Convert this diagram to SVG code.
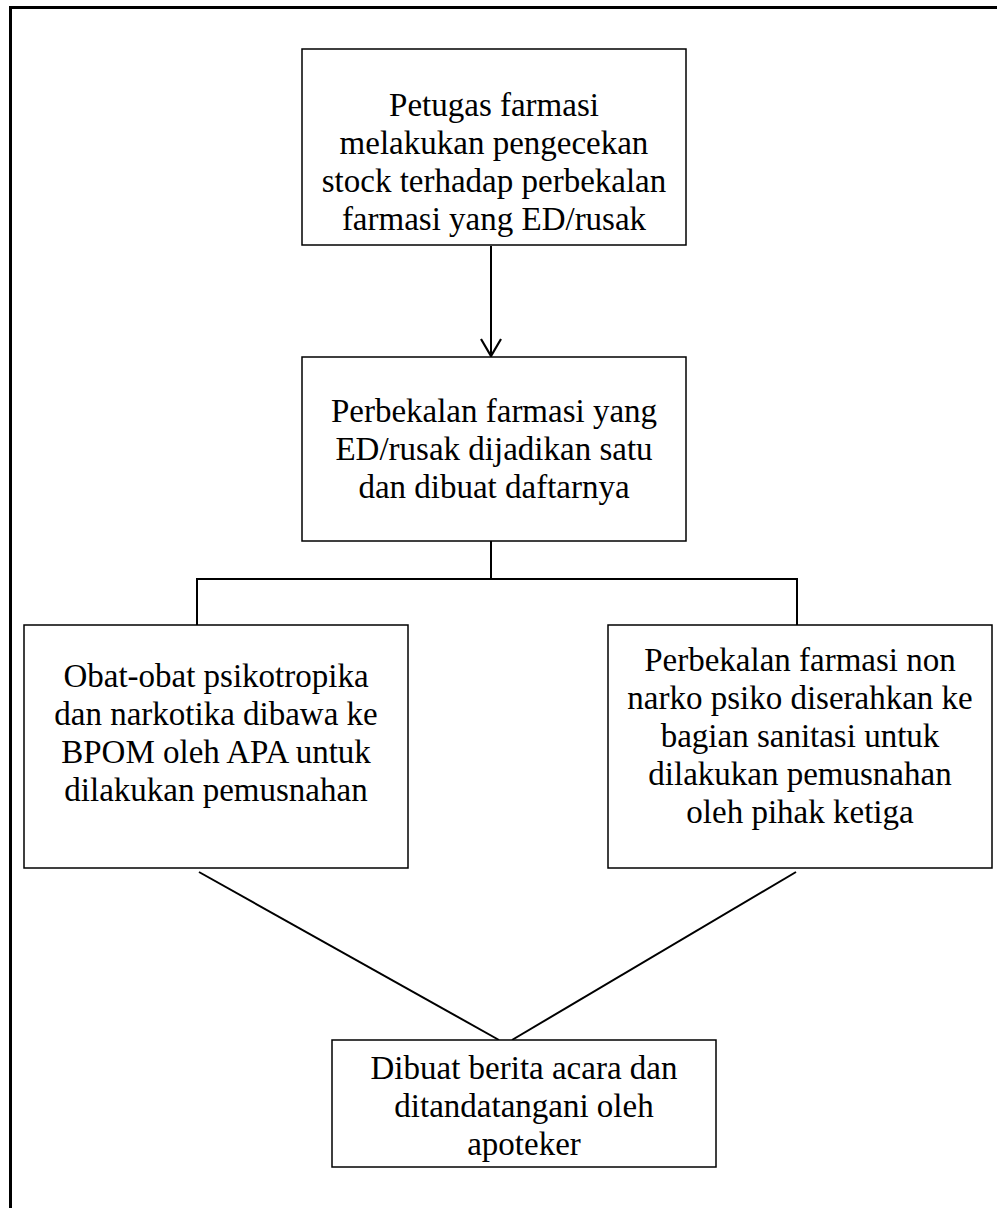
<svg xmlns="http://www.w3.org/2000/svg" width="997" height="1208" viewBox="0 0 997 1208">
<style>
.box{fill:#fff;stroke:#000;stroke-width:1.5}
.t{font-family:"Liberation Serif","Times New Roman",serif;font-size:33px;fill:#000;text-anchor:middle}
.c{fill:none;stroke:#000;stroke-width:2}
</style>
<defs>
<marker id="arr" markerWidth="24" markerHeight="24" refX="20" refY="12" orient="auto" markerUnits="userSpaceOnUse" viewBox="0 0 24 24">
<path d="M3,2 L20,12 L3,22" fill="none" stroke="#000" stroke-width="2.2"/>
</marker>
</defs>
<rect x="10.5" y="7.5" width="1000" height="1210" fill="#fff" stroke="#000" stroke-width="3"/>
<g id="connectors">
<line class="c" x1="491" y1="246" x2="491" y2="356" marker-end="url(#arr)"/>
<polyline class="c" points="491,541 491,579"/>
<polyline class="c" points="197,625 197,579 797,579 797,625"/>
<line class="c" x1="199" y1="872" x2="499" y2="1040"/>
<line class="c" x1="796" y1="872" x2="512" y2="1040"/>
</g>
<g id="n1">
<rect class="box" x="302" y="49" width="384" height="196"/>
<text class="t" x="494" y="116">Petugas farmasi</text>
<text class="t" x="494" y="154">melakukan pengecekan</text>
<text class="t" x="494" y="192">stock terhadap perbekalan</text>
<text class="t" x="494" y="230">farmasi yang ED/rusak</text>
</g>
<g id="n2">
<rect class="box" x="302" y="357" width="384" height="184"/>
<text class="t" x="494" y="422">Perbekalan farmasi yang</text>
<text class="t" x="494" y="460">ED/rusak dijadikan satu</text>
<text class="t" x="494" y="498">dan dibuat daftarnya</text>
</g>
<g id="n3">
<rect class="box" x="24" y="625" width="384" height="243"/>
<text class="t" x="216" y="687">Obat-obat psikotropika</text>
<text class="t" x="216" y="725">dan narkotika dibawa ke</text>
<text class="t" x="216" y="763">BPOM oleh APA untuk</text>
<text class="t" x="216" y="801">dilakukan pemusnahan</text>
</g>
<g id="n4">
<rect class="box" x="608" y="625" width="384" height="243"/>
<text class="t" x="800" y="671">Perbekalan farmasi non</text>
<text class="t" x="800" y="709">narko psiko diserahkan ke</text>
<text class="t" x="800" y="747">bagian sanitasi untuk</text>
<text class="t" x="800" y="785">dilakukan pemusnahan</text>
<text class="t" x="800" y="823">oleh pihak ketiga</text>
</g>
<g id="n5">
<rect class="box" x="332" y="1040" width="384" height="127"/>
<text class="t" x="524" y="1079">Dibuat berita acara dan</text>
<text class="t" x="524" y="1117">ditandatangani oleh</text>
<text class="t" x="524" y="1155">apoteker</text>
</g>
</svg>
